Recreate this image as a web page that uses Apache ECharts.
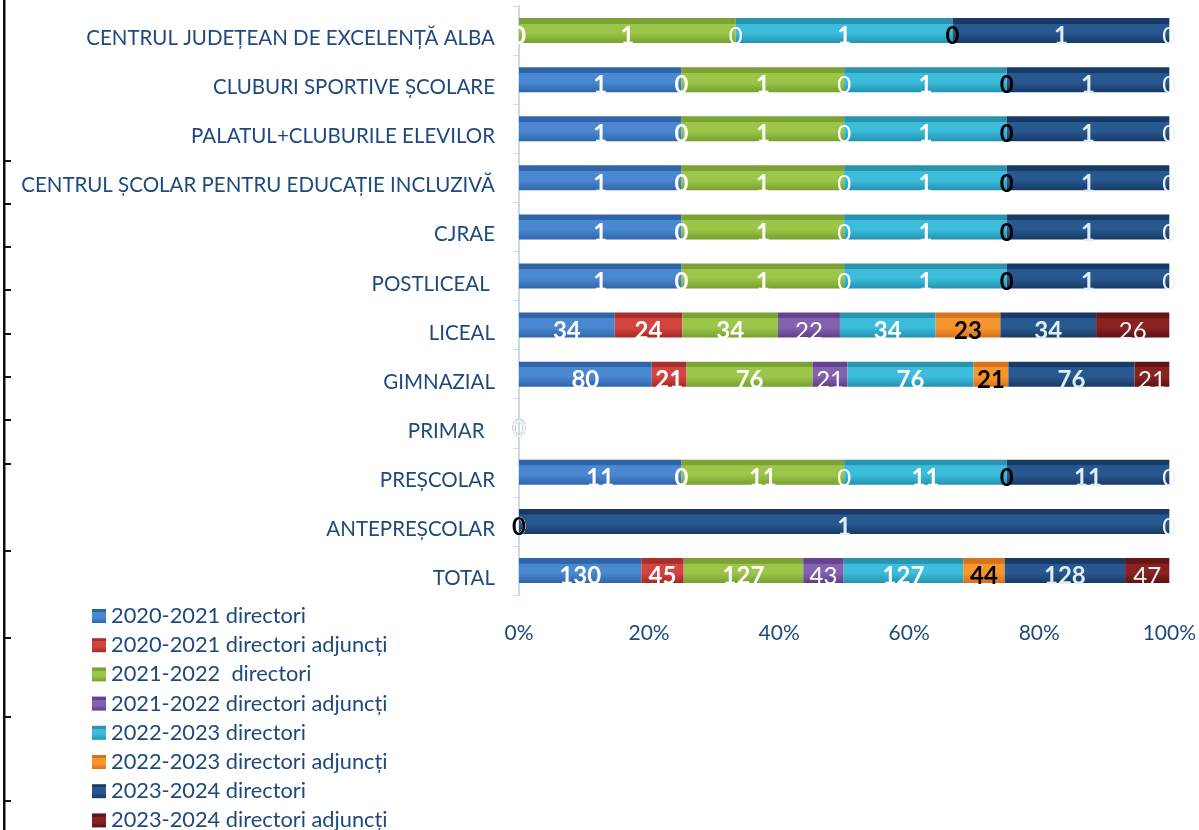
<!DOCTYPE html>
<html><head><meta charset="utf-8">
<script src="https://cdn.jsdelivr.net/npm/echarts@6/dist/echarts.min.js"></script>
<style>html,body{margin:0;padding:0;background:#fff}#c{width:1199px;height:830px}</style>
</head><body><div id="c"></div>
<script>
var categories = ["TOTAL","ANTEPREȘCOLAR","PREȘCOLAR","PRIMAR  ","GIMNAZIAL","LICEAL","POSTLICEAL ","CJRAE","CENTRUL ȘCOLAR PENTRU EDUCAȚIE INCLUZIVĂ","PALATUL+CLUBURILE ELEVILOR","CLUBURI SPORTIVE ȘCOLARE","CENTRUL JUDEȚEAN DE EXCELENȚĂ ALBA"];
var seriesNames = ["2020-2021 directori","2020-2021 directori adjuncți","2021-2022  directori","2021-2022 directori adjuncți","2022-2023 directori","2022-2023 directori adjuncți","2023-2024 directori","2023-2024 directori adjuncți"];
var d2021dir  = [130,0,11,0,80,34,1,1,1,1,1,0];
var d2021adj  = [45,0,0,0,21,24,0,0,0,0,0,0];
var d2122dir  = [127,0,11,0,76,34,1,1,1,1,1,1];
var d2122adj  = [43,0,0,0,21,22,0,0,0,0,0,0];
var d2223dir  = [127,0,11,0,76,34,1,1,1,1,1,1];
var d2223adj  = [44,0,0,0,21,23,0,0,0,0,0,0];
var d2324dir  = [128,1,11,0,76,34,1,1,1,1,1,1];
var d2324adj  = [47,0,0,0,21,26,0,0,0,0,0,0];
var xTicks = [0,20,40,60,80,100];

var raw = [d2021dir,d2021adj,d2122dir,d2122adj,d2223dir,d2223adj,d2324dir,d2324adj];
// [top face, front light, front dark]
var colors = [["#2F65A8","#4A88D2","#2F66AA"],["#A8302C","#D44440","#A62824"],["#7CA236","#9CC64A","#77A02E"],["#644392","#8462AE","#603F8A"],["#2A93AF","#3DBCDC","#2492B0"],["#D5731E","#F8962E","#D8701A"],["#173A66","#285890","#173A66"],["#641515","#8A2222","#5E1212"]];
var labelStyles = [
  {color:"#fff",fontWeight:"bold"},
  {color:"#fff",fontWeight:"bold"},
  {color:"#fff",fontWeight:"bold"},
  {color:"#fff",fontWeight:"normal"},
  {color:"#fff",fontWeight:"bold"},
  {color:"#000",fontWeight:"bold"},
  {color:"#DDEEF7",fontWeight:"bold"},
  {color:"#F0F4F8",fontWeight:"normal"}
];
var totals = categories.map(function(_,i){var s=0;raw.forEach(function(a){s+=a[i];});return s;});
var series = raw.map(function(arr,k){
  var c=colors[k];
  return {
    name: seriesNames[k], type:"bar", stack:"t", barWidth:25,
    data: arr.map(function(v,i){return {value: totals[i]?v/totals[i]*100:0, raw:v};}),
    itemStyle:{color:new echarts.graphic.LinearGradient(0,0,0,1,[
      {offset:0,color:c[0]},{offset:0.22,color:c[0]},{offset:0.23,color:c[1]},{offset:0.6,color:c[1]},{offset:1,color:c[2]}])},
    label:{show:true,position:"inside",offset:[0,6],fontFamily:"Lato",fontSize:24,color:labelStyles[k].color,fontWeight:labelStyles[k].fontWeight,
      formatter:function(p){return p.data.raw;}},
    emphasis:{disabled:true}
  };
});
var chart = echarts.init(document.getElementById("c"));
var ticksY=[160,203,246,289,333,376,419,463,550,637,716,800];
var g=[{type:"rect",shape:{x:3,y:0,width:2.5,height:830},style:{fill:"#111"}}];
ticksY.forEach(function(y){g.push({type:"rect",shape:{x:3,y:y,width:8,height:2},style:{fill:"#111"}});});
chart.setOption({
  animation:false,
  color: colors.map(function(c){return c[1];}),
  graphic:g,
  grid:{left:519,right:22,top:6,bottom:235,containLabel:false},
  xAxis:{type:"value",min:0,max:100,interval:20,
    axisLabel:{formatter:"{value}%",color:"#1F497D",fontSize:21,fontFamily:"Lato",margin:28},
    axisLine:{show:false},axisTick:{show:false},splitLine:{show:false}},
  yAxis:{type:"category",data:categories,
    axisLine:{show:true,lineStyle:{color:"#C5DCF0",width:2}},
    axisTick:{show:true,length:6,lineStyle:{color:"#C5DCF0"}},
    axisLabel:{color:"#1F497D",fontSize:20.5,fontFamily:"Lato",margin:24,verticalAlign:"top",lineHeight:16}},
  legend:{orient:"vertical",left:87,top:600,height:300,itemGap:7.2,itemWidth:14,itemHeight:14,icon:"rect",itemTextGap:6,
    textStyle:{color:"#1F497D",fontSize:21.8,fontFamily:"Lato"},data:seriesNames},
  series:series
});
</script></body></html>
